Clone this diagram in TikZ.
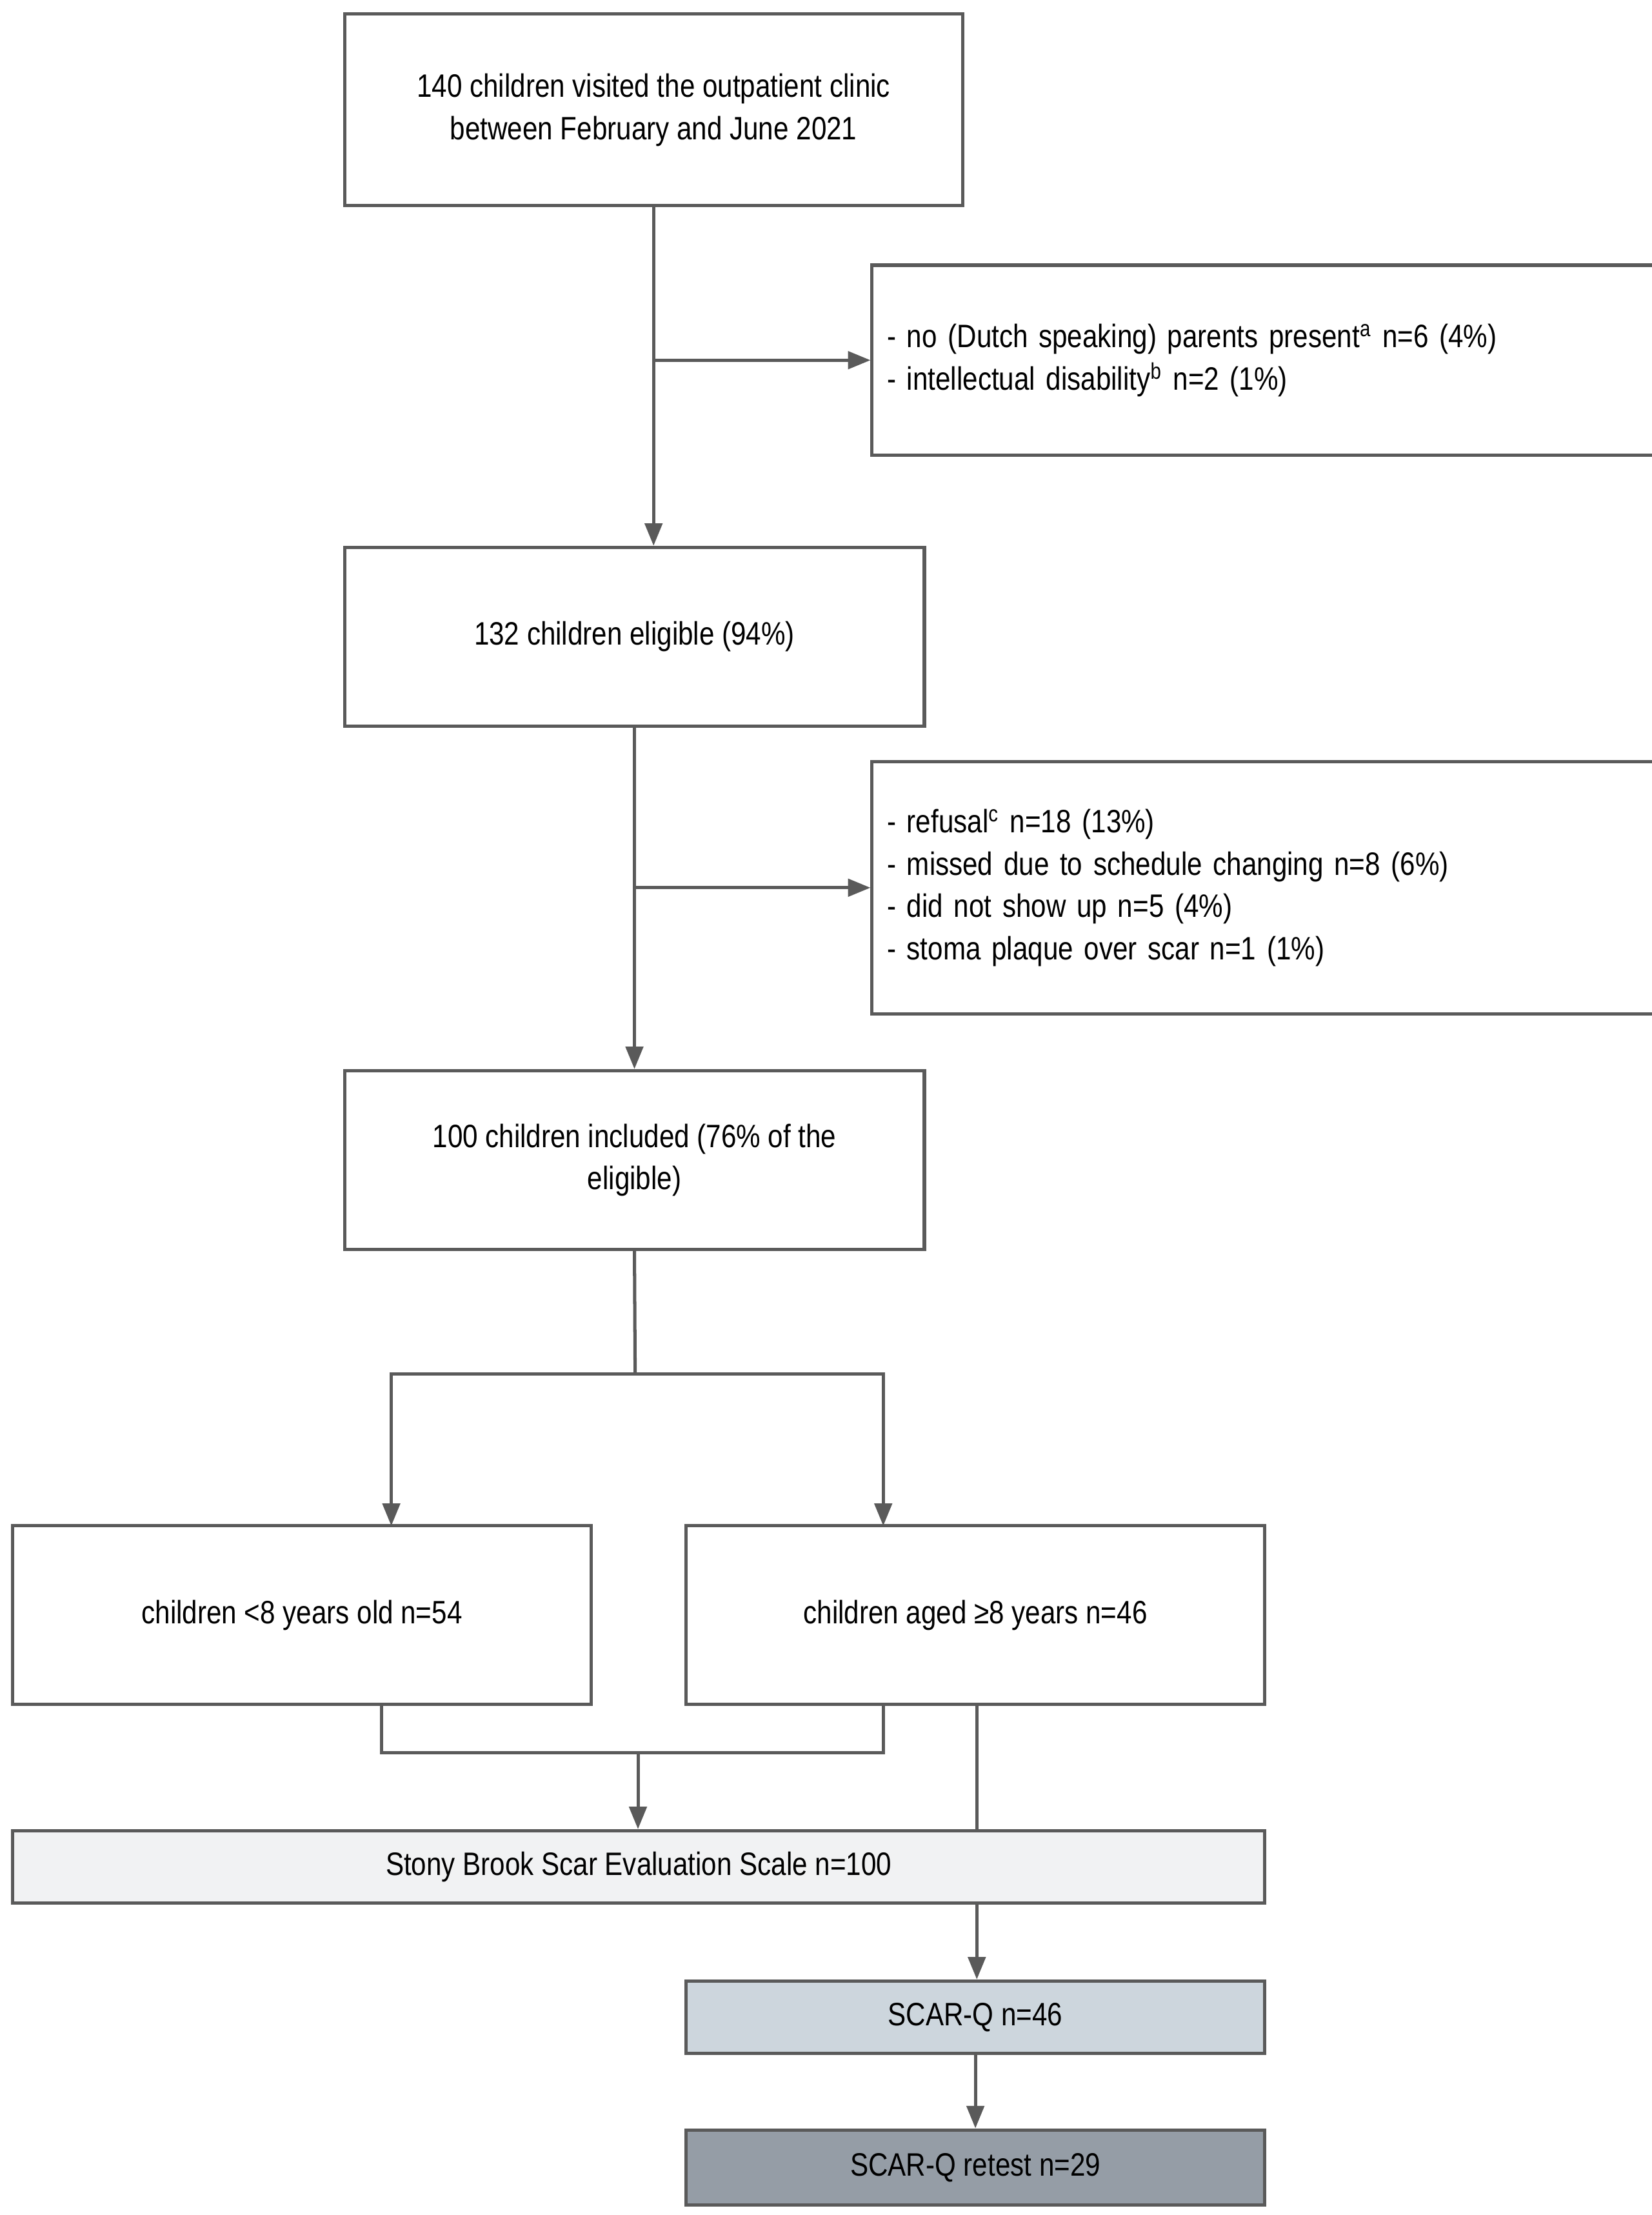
\documentclass[tikz,border=0pt]{standalone}
\usepackage{fontspec}
\setmainfont[FakeStretch=0.84]{Liberation Sans}
\usetikzlibrary{arrows.meta}
\definecolor{linegray}{HTML}{5A5A5A}
\definecolor{boxa}{HTML}{F1F2F3}
\definecolor{boxb}{HTML}{CDD6DD}
\definecolor{boxc}{HTML}{959DA6}
\tikzset{
	box/.style={draw=linegray, line width=1.3pt, align=center, font=\fontsize{13}{17}\selectfont, inner sep=0pt},
	exbox/.style={box, align=left, text width=#1, inner xsep=6pt},
	arr/.style={draw=linegray, line width=1.3pt, -{Triangle[length=9pt,width=7pt]}},
	ln/.style={draw=linegray, line width=1.3pt}
}
\begin{document}
\begin{tikzpicture}[x=0.02cm,y=-0.02cm]
	\useasboundingbox (0,0) rectangle (1165,1562);
	%main column
	\node[box, minimum width=436*0.02cm, minimum height=135*0.02cm] (visited) at (461,77.5) {140 children visited the outpatient clinic\\between February and June 2021};
	\node[box, minimum width=409*0.02cm, minimum height=126*0.02cm] (eligible) at (447.5,449) {132 children eligible (94\%)};
	\node[box, minimum width=409*0.02cm, minimum height=126*0.02cm] (included) at (447.5,818) {100 children included (76\% of the\\eligible)};
	%exclusions
	\node[exbox=530*0.02cm, minimum height=134*0.02cm, anchor=west] (exclA) at (614,254) {- no (Dutch speaking) parents present\textsuperscript{a} n=6 (4\%)\\- intellectual disability\textsuperscript{b} n=2 (1\%)\\[1.2em]};
	\node[exbox=530*0.02cm, minimum height=178*0.02cm, anchor=west] (exclB) at (614,626) {- refusal\textsuperscript{c} n=18 (13\%)\\- missed due to schedule changing n=8 (6\%)\\- did not show up n=5 (4\%)\\- stoma plaque over scar n=1 (1\%)\\[0.8em]};
	%age groups
	\node[box, minimum width=408*0.02cm, minimum height=126*0.02cm] (young) at (213,1139) {children <8 years old n=54};
	\node[box, minimum width=408*0.02cm, minimum height=126*0.02cm] (old) at (688,1139) {children aged ≥8 years n=46};
	%instruments
	\node[box, fill=boxa, minimum width=883*0.02cm, minimum height=51*0.02cm] (sbses) at (450.5,1316.5) {Stony Brook Scar Evaluation Scale n=100};
	\node[box, fill=boxb, minimum width=408*0.02cm, minimum height=51*0.02cm] (scarq) at (688,1422.5) {SCAR-Q n=46};
	\node[box, fill=boxc, minimum width=408*0.02cm, minimum height=53*0.02cm] (retest) at (688,1528.5) {SCAR-Q retest n=29};
	
	\draw[arr] (visited.south) -- (visited.south |- eligible.north);
	\draw[arr] (visited.south |- exclA.west) -- (exclA.west);
	\draw[arr] (eligible.south) -- (included.north);
	\draw[arr] (eligible.south |- exclB.west) -- (exclB.west);
	
	\coordinate (split) at (448,969);
	\draw[ln] (included.south) -- (split);
	\draw[arr] (split) -| (276,1076);
	\draw[arr] (split) -| (623,1076);
	
	\coordinate (join) at (450,1236);
	\draw[ln] (269,1202) |- (623,1236) -- (623,1202);
	\draw[arr] (join) -- (join |- sbses.north);
	\draw[ln] (689,1202) -- (689,1291);
	\draw[arr] (689,1342) -- (scarq.north -| 689,0);
	\draw[arr] (scarq.south) -- (retest.north);
\end{tikzpicture}
\end{document}
